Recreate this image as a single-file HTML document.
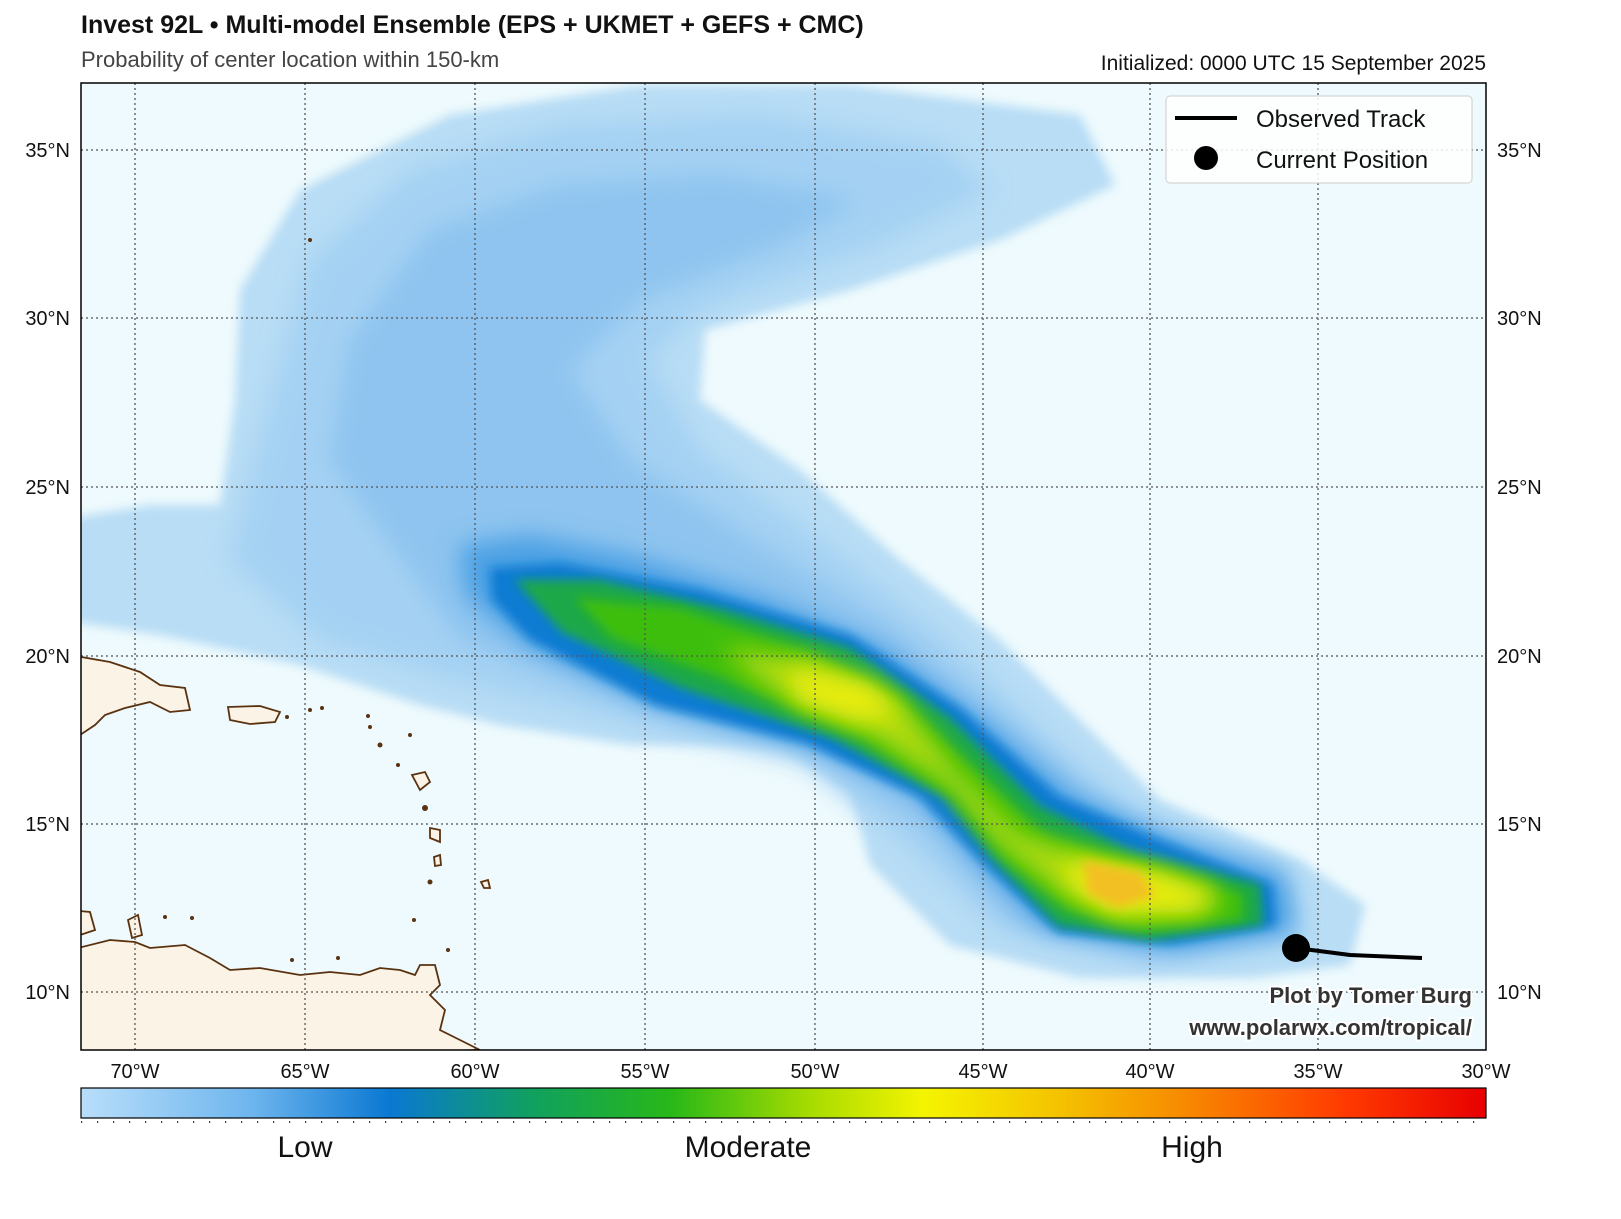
<!DOCTYPE html>
<html><head><meta charset="utf-8"><style>
html,body{margin:0;padding:0;background:#fff}
svg{display:block;font-family:"Liberation Sans","DejaVu Sans",sans-serif}
</style></head><body>
<svg width="1621" height="1219" viewBox="0 0 1621 1219" xmlns="http://www.w3.org/2000/svg">
<defs>
<filter id="b1" x="-20%" y="-20%" width="140%" height="140%"><feGaussianBlur stdDeviation="5"/></filter>
<filter id="b2" x="-20%" y="-20%" width="140%" height="140%"><feGaussianBlur stdDeviation="12"/></filter>
<clipPath id="map"><rect x="81" y="83" width="1405" height="967"/></clipPath>
<linearGradient id="cb" x1="0" x2="1" y1="0" y2="0">
<stop offset="0" stop-color="#b8defa"/>
<stop offset="0.12" stop-color="#6fb6ee"/>
<stop offset="0.22" stop-color="#0a78d2"/>
<stop offset="0.32" stop-color="#10a060"/>
<stop offset="0.42" stop-color="#28b818"/>
<stop offset="0.52" stop-color="#a8dc00"/>
<stop offset="0.60" stop-color="#f4f400"/>
<stop offset="0.70" stop-color="#f4c000"/>
<stop offset="0.80" stop-color="#f88000"/>
<stop offset="0.90" stop-color="#ff3a00"/>
<stop offset="1" stop-color="#e80000"/>
</linearGradient>
</defs>

<text x="81" y="33" font-size="25" font-weight="bold" fill="#111">Invest 92L • Multi-model Ensemble (EPS + UKMET + GEFS + CMC)</text>
<text x="81" y="67" font-size="22" fill="#444">Probability of center location within 150-km</text>
<text x="1486" y="70" font-size="21" fill="#111" text-anchor="end">Initialized: 0000 UTC 15 September 2025</text>

<rect x="81" y="83" width="1405" height="967" fill="#eefafd"/>
<g clip-path="url(#map)">
<path filter="url(#b1)" fill="#b8ddf5" d="M60,520 L150,505 L220,505 L235,400 L240,290 L300,190 L450,115 L640,85 L850,85 L1080,115 L1115,185 L1000,240 L850,290 L705,330 L700,400 L800,470 L900,560 L1000,640 L1080,720 L1160,800 L1300,860 L1365,905 L1350,965 L1250,978 L1080,978 L950,945 L870,865 L850,790 L780,745 L630,745 L500,725 L420,705 L300,665 L160,635 L60,620 Z"/>
<path filter="url(#b2)" fill="#a4d1f3" d="M230,560 L270,400 L310,260 L410,170 L560,125 L760,115 L940,145 L990,190 L880,245 L700,310 L650,360 L700,450 L820,540 L950,640 L1050,740 L1160,830 L1290,880 L1300,940 L1150,960 L1000,930 L900,840 L800,760 L620,720 L450,680 L320,640 Z"/>
<path filter="url(#b2)" fill="#8ec4ef" d="M330,460 L350,340 L430,230 L560,185 L720,175 L860,200 L780,245 L640,300 L570,370 L630,460 L760,545 L890,625 L1010,725 L1120,820 L1280,870 L1290,935 L1150,955 L1010,920 L930,830 L820,755 L640,705 L460,640 Z"/>
<path filter="url(#b2)" fill="#4ba0e4" d="M460,545 L530,535 L630,555 L760,595 L880,645 L985,720 L1075,795 L1165,835 L1285,875 L1295,930 L1180,950 L1045,930 L975,860 L915,792 L805,742 L655,705 L525,645 L465,595 Z"/>
<path filter="url(#b1)" fill="#0d7bd2" d="M490,568 L560,563 L700,590 L850,635 L960,708 L1058,796 L1160,840 L1272,884 L1276,926 L1170,944 L1058,932 L980,860 L920,797 L808,744 L655,705 L530,640 L492,600 Z"/>
<path filter="url(#b1)" fill="#1ea848" d="M515,580 L600,580 L720,608 L850,648 L950,718 L1040,806 L1130,850 L1260,884 L1263,925 L1150,940 L1058,926 L993,860 L943,797 L832,738 L682,688 L562,632 Z"/>
<path filter="url(#b1)" fill="#3cbe0c" d="M575,598 L680,608 L800,648 L900,698 L973,767 L1043,833 L1140,864 L1243,893 L1243,920 L1140,930 L1067,910 L1007,860 L957,797 L860,738 L720,678 L612,638 Z"/>
<path filter="url(#b2)" fill="#b4dc10" d="M720,648 L820,662 L905,707 L953,767 L1018,833 L1100,863 L1213,889 L1220,910 L1120,918 L1057,889 L997,842 L947,784 L860,727 L770,688 Z"/>
<path filter="url(#b2)" fill="#e8ec10" d="M790,667 L870,682 L903,712 L860,722 L795,702 Z M1065,858 L1160,872 L1213,895 L1195,912 L1110,912 L1072,890 Z"/>
<path filter="url(#b1)" fill="#f2c020" d="M1083,860 L1140,872 L1155,896 L1118,908 L1088,894 Z"/>

<g fill="#faf3e6" stroke="#5a3210" stroke-width="1.8">
<path d="M70,655 L110,662 L140,672 L160,685 L185,688 L190,710 L170,712 L150,702 L125,708 L105,715 L95,725 L80,735 L70,735 Z"/>
<path d="M228,707 L260,706 L280,712 L275,722 L250,724 L230,720 Z"/>
<path d="M70,910 L90,912 L95,930 L80,935 Z"/>
<path d="M70,950 L110,940 L135,942 L150,948 L185,945 L210,958 L230,970 L260,968 L300,975 L330,972 L360,975 L380,968 L400,970 L415,975 L420,965 L435,965 L440,985 L430,995 L445,1010 L440,1030 L460,1040 L480,1050 L70,1060 Z"/>
<path d="M128,920 L138,915 L142,935 L132,938 Z"/>
<path d="M412,775 L425,772 L430,782 L420,790 Z"/>
<path d="M430,828 L440,830 L440,842 L430,838 Z"/>
<path d="M434,857 L440,855 L441,865 L435,866 Z"/>
<path d="M481,882 L488,880 L490,888 L484,888 Z"/>
</g>
<g fill="#5a3210">
<circle cx="287" cy="717" r="2"/><circle cx="310" cy="710" r="2"/><circle cx="322" cy="708" r="2"/><circle cx="368" cy="716" r="2"/><circle cx="370" cy="727" r="2"/><circle cx="380" cy="745" r="2.5"/><circle cx="398" cy="765" r="2"/><circle cx="410" cy="735" r="2"/><circle cx="425" cy="808" r="3"/><circle cx="430" cy="882" r="2.5"/><circle cx="414" cy="920" r="2"/><circle cx="448" cy="950" r="2"/><circle cx="165" cy="917" r="2"/><circle cx="192" cy="918" r="2"/><circle cx="310" cy="240" r="2"/><circle cx="292" cy="960" r="2"/><circle cx="338" cy="958" r="2"/>
</g>

<g stroke="#555" stroke-width="1.3" stroke-dasharray="2,3">
<line x1="135" y1="83" x2="135" y2="1050"/><line x1="305" y1="83" x2="305" y2="1050"/><line x1="475" y1="83" x2="475" y2="1050"/><line x1="645" y1="83" x2="645" y2="1050"/><line x1="815" y1="83" x2="815" y2="1050"/><line x1="983" y1="83" x2="983" y2="1050"/><line x1="1150" y1="83" x2="1150" y2="1050"/><line x1="1318" y1="83" x2="1318" y2="1050"/>
<line x1="81" y1="150" x2="1486" y2="150"/><line x1="81" y1="318" x2="1486" y2="318"/><line x1="81" y1="487" x2="1486" y2="487"/><line x1="81" y1="656" x2="1486" y2="656"/><line x1="81" y1="824" x2="1486" y2="824"/><line x1="81" y1="992" x2="1486" y2="992"/>
</g>

<path d="M1296,948 L1350,955 L1422,958" stroke="#000" stroke-width="4" fill="none"/>
<circle cx="1296" cy="948" r="14" fill="#000"/>

<text x="1472" y="1003" font-size="22" font-weight="bold" fill="#333" text-anchor="end" stroke="#fff" stroke-width="4" paint-order="stroke">Plot by Tomer Burg</text>
<text x="1472" y="1035" font-size="22" font-weight="bold" fill="#333" text-anchor="end" stroke="#fff" stroke-width="4" paint-order="stroke">www.polarwx.com/tropical/</text>

<rect x="1166" y="96" width="306" height="87" rx="4" fill="#fff" fill-opacity="0.85" stroke="#ccc"/>
<line x1="1175" y1="118" x2="1237" y2="118" stroke="#000" stroke-width="4"/>
<text x="1256" y="127" font-size="24" fill="#111">Observed Track</text>
<circle cx="1206" cy="158" r="12" fill="#000"/>
<text x="1256" y="168" font-size="24" fill="#111">Current Position</text>
</g>
<rect x="81" y="83" width="1405" height="967" fill="none" stroke="#000" stroke-width="1.5"/>

<g font-size="20" fill="#111">
<g text-anchor="middle">
<text x="135" y="1078">70°W</text><text x="305" y="1078">65°W</text><text x="475" y="1078">60°W</text><text x="645" y="1078">55°W</text><text x="815" y="1078">50°W</text><text x="983" y="1078">45°W</text><text x="1150" y="1078">40°W</text><text x="1318" y="1078">35°W</text><text x="1486" y="1078">30°W</text>
</g>
<g text-anchor="end">
<text x="70" y="157">35°N</text><text x="70" y="325">30°N</text><text x="70" y="494">25°N</text><text x="70" y="663">20°N</text><text x="70" y="831">15°N</text><text x="70" y="999">10°N</text>
</g>
<g>
<text x="1497" y="157">35°N</text><text x="1497" y="325">30°N</text><text x="1497" y="494">25°N</text><text x="1497" y="663">20°N</text><text x="1497" y="831">15°N</text><text x="1497" y="999">10°N</text>
</g>
</g>

<rect x="81" y="1088" width="1405" height="30" fill="url(#cb)" stroke="#000" stroke-width="1.2"/>
<line x1="81" y1="1122" x2="1486" y2="1122" stroke="#000" stroke-width="1.5" stroke-dasharray="1.2,14.8"/>
<g font-size="30" fill="#111" text-anchor="middle">
<text x="305" y="1157">Low</text><text x="748" y="1157">Moderate</text><text x="1192" y="1157">High</text>
</g>
</svg>
</body></html>
